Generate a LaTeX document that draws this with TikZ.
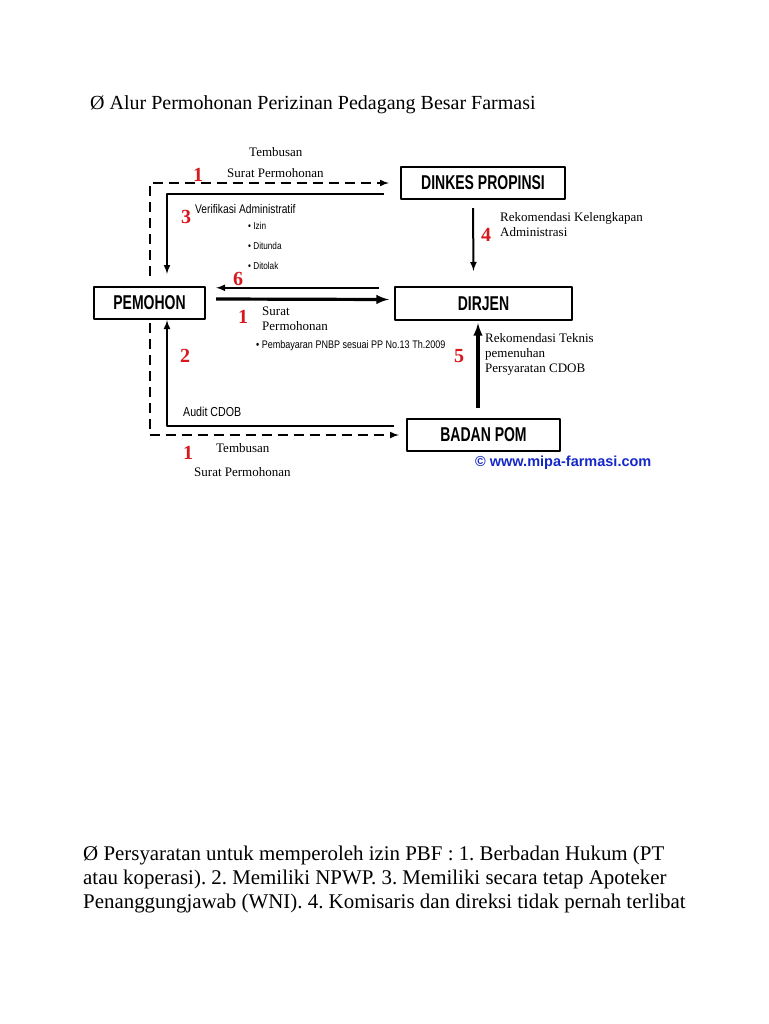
\documentclass[tikz,border=0pt]{standalone}
\usepackage{fontspec}
\setmainfont{Liberation Serif}
\newfontfamily\boxfont[FakeStretch=0.7]{Liberation Sans}
\newfontfamily\narrowfont[FakeStretch=0.82]{Liberation Sans}
\newfontfamily\webfont{Liberation Sans}
\definecolor{numred}{RGB}{215,25,30}
\definecolor{webblue}{RGB}{20,40,200}
\frenchspacing
\begin{document}
\begin{tikzpicture}[x=1pt,y=-1pt,>=latex,line join=bevel,
  box/.style={draw,line width=2.4pt,inner sep=0pt,font=\boxfont\bfseries\fontsize{20}{20}\selectfont},
  num/.style={inner sep=0pt,text=numred,font=\bfseries\fontsize{20}{20}\selectfont},
  lbl/.style={inner sep=0pt,anchor=west,align=left,font=\fontsize{13}{15}\selectfont},
  sans/.style={inner sep=0pt,anchor=west,font=\narrowfont\fontsize{12.5}{15}\selectfont},
  tiny/.style={inner sep=0pt,anchor=west,font=\narrowfont\fontsize{10}{12}\selectfont},
  flow/.style={->,line width=2pt},
  bigflow/.style={->,line width=3.2pt},
  dashline/.style={->,line width=2pt,dash pattern=on 10pt off 6pt},
  prose/.style={inner sep=0pt,anchor=west,align=left,font=\fontsize{20.9}{24}\selectfont}]
%%
  \fill[white] (0,0) rectangle (768,1024);
  \useasboundingbox (0,0) rectangle (768,1024);

  \node (judul) at (90,105) [prose,font=\fontsize{20}{24}\selectfont] {Ø Alur Permohonan Perizinan Pedagang Besar Farmasi};

  \node (dinkes) at (483,183) [box,minimum width=164,minimum height=32] {DINKES PROPINSI};
  \node (pemohon) at (149.5,303) [box,minimum width=111,minimum height=32] {PEMOHON};
  \node (dirjen) at (483.5,303.5) [box,minimum width=177,minimum height=33] {DIRJEN};
  \node (badanpom) at (483.5,435) [box,minimum width=153,minimum height=32] {BADAN POM};

  \draw [dashline] ([yshift=10]pemohon.north) |- ([xshift=-11]dinkes.west);
  \draw [flow] ([xshift=-16,yshift=-11]dinkes.west) -| ([xshift=17.5,yshift=12]pemohon.north);
  \draw [flow] ([xshift=-15,yshift=-2]dirjen.north west) -- ([xshift=10,yshift=-2]pemohon.north east);
  \draw [bigflow] ([xshift=10,yshift=4]pemohon.east) -- ([xshift=-5,yshift=4]dirjen.west);
  \draw [flow] ([xshift=-10,yshift=-8]dinkes.south) -- ([xshift=-10,yshift=15]dirjen.north);
  \draw [bigflow] ([xshift=-5.5,yshift=10]badanpom.north) -- ([xshift=-5.5,yshift=-2]dirjen.south);
  \draw [dashline] ([yshift=-3]pemohon.south) |- ([xshift=-7]badanpom.west);
  \draw [flow] ([xshift=-12,yshift=9]badanpom.west) -| ([xshift=17.5]pemohon.south);

  \node (tembA) at (249,152) [lbl] {Tembusan};
  \node (suratA) at (227,173) [lbl] {Surat Permohonan};
  \node (n1a) at (198,175) [num] {1};
  \node (n3) at (186,217) [num] {3};
  \node (verif) at (195,209) [sans] {Verifikasi Administratif};
  \node (izin) at (248,226) [tiny] {\textbullet\ Izin};
  \node (ditunda) at (248,246) [tiny] {\textbullet\ Ditunda};
  \node (ditolak) at (248,266) [tiny] {\textbullet\ Ditolak};
  \node (n6) at (238,279) [num] {6};
  \node (rekA) at (500,224.5) [lbl] {Rekomendasi Kelengkapan\\Administrasi};
  \node (n4) at (486,235) [num] {4};
  \node (suratB) at (262,318.5) [lbl] {Surat\\Permohonan};
  \node (n1b) at (243,317) [num] {1};
  \node (pnbp) at (256,346) [tiny,font=\narrowfont\fontsize{11}{12}\selectfont] {\textbullet\ Pembayaran PNBP sesuai PP No.13 Th.2009};
  \node (n2) at (185,356) [num] {2};
  \node (n5) at (459,356) [num] {5};
  \node (rekB) at (485,354) [lbl] {Rekomendasi Teknis\\pemenuhan\\Persyaratan CDOB};
  \node (audit) at (183,412) [sans,font=\narrowfont\fontsize{13}{15}\selectfont] {Audit CDOB};
  \node (tembB) at (216,448) [lbl] {Tembusan};
  \node (n1c) at (188,453) [num] {1};
  \node (suratC) at (194,472) [lbl] {Surat Permohonan};
  \node (web) at (475,463) [inner sep=0pt,anchor=west,text=webblue,font=\webfont\bfseries\fontsize{14.5}{15}\selectfont] {© www.mipa-farmasi.com};

  \node (syarat) at (83,879) [prose] {Ø Persyaratan untuk memperoleh izin PBF : 1. Berbadan Hukum (PT\\atau koperasi). 2. Memiliki NPWP. 3. Memiliki secara tetap Apoteker\\Penanggungjawab (WNI). 4. Komisaris dan direksi tidak pernah terlibat};
%
\end{tikzpicture}
\end{document}
